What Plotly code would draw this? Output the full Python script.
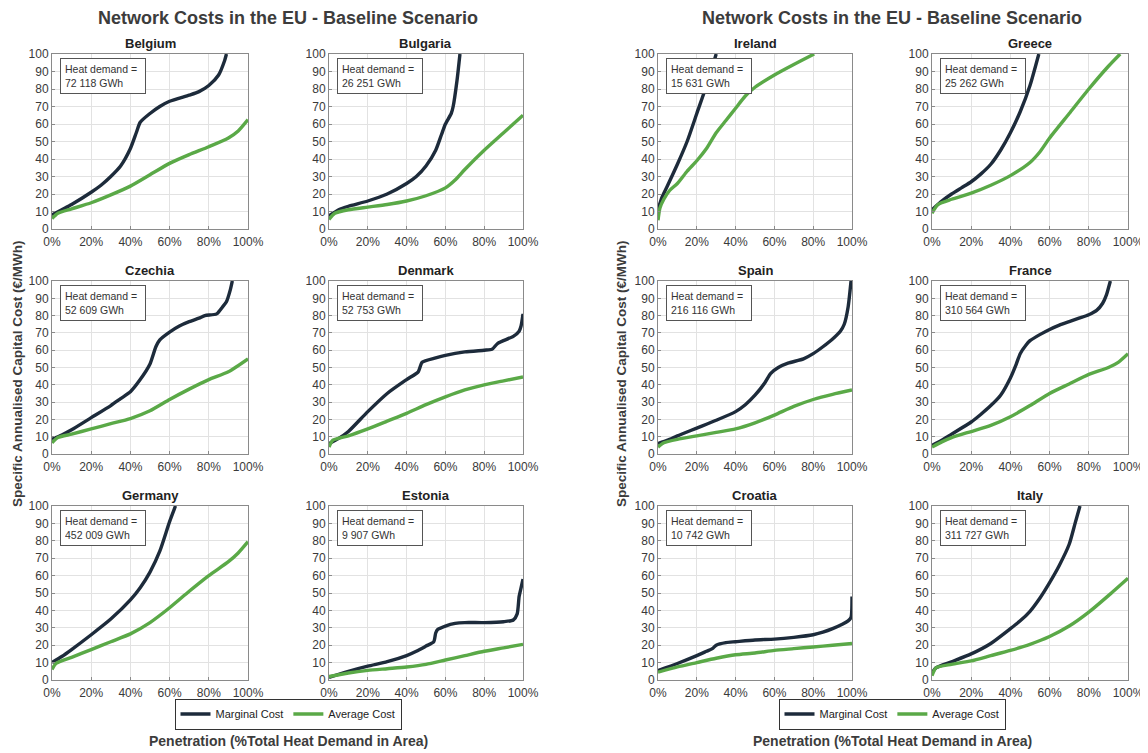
import plotly.graph_objects as go

# ---------------- data ----------------
countries = ["Belgium", "Bulgaria", "Czechia", "Denmark", "Germany", "Estonia",
             "Ireland", "Greece", "Spain", "France", "Croatia", "Italy"]
heat_demand = ["72 118", "26 251", "52 609", "52 753", "452 009", "9 907",
               "15 631", "25 262", "216 116", "310 564", "10 742", "311 727"]

x_ticks = [0, 20, 40, 60, 80, 100]
x_tick_labels = ["0%", "20%", "40%", "60%", "80%", "100%"]
y_ticks = [0, 10, 20, 30, 40, 50, 60, 70, 80, 90, 100]

belgium_marginal = [(0, 8), (5, 11), (10, 14), (20, 21), (25, 25), (30, 30), (35, 36), (40, 46), (43, 55),
                    (45, 61), (50, 66), (55, 70), (60, 73), (70, 76.5), (75, 78.5), (80, 82), (85, 88),
                    (88, 96), (89, 100)]
belgium_average = [(0, 6), (3, 9), (10, 11.5), (20, 15), (30, 19.5), (40, 24.5), (50, 31), (60, 37.5),
                   (70, 42.5), (80, 47), (90, 52), (95, 56), (100, 62.5)]
bulgaria_marginal = [(0, 7.5), (5, 11), (10, 13), (20, 16), (30, 20), (40, 26), (45, 30), (50, 36), (55, 45),
                     (58, 54), (60, 60), (63, 66), (64, 70), (66, 85), (67.5, 100)]
bulgaria_average = [(0, 5.5), (3, 9), (10, 11), (20, 12.5), (30, 14), (40, 16), (50, 19), (60, 23.5),
                    (65, 28), (70, 34), (80, 45), (90, 55), (100, 65)]
czechia_marginal = [(0, 8.5), (5, 11), (10, 14), (20, 21), (30, 28), (35, 32), (40, 36), (45, 43), (50, 52),
                    (53, 62), (55, 66), (60, 70.5), (65, 74), (70, 76.5), (75, 78.5), (78, 80), (84, 81),
                    (87, 85), (89, 88), (91, 95), (92, 100)]
czechia_average = [(0, 6.5), (3, 9.5), (10, 11.5), (20, 14.5), (30, 17.5), (40, 20.5), (50, 25), (60, 31.5),
                   (70, 37.5), (80, 43), (90, 47.5), (100, 55)]
denmark_marginal = [(0, 6), (5, 9), (10, 13), (20, 24.5), (30, 35), (40, 43), (46, 47.5), (48, 53), (55, 55.5),
                    (60, 57), (70, 59), (80, 60), (84, 60.5), (87, 64), (95, 68), (98, 71), (99, 74), (100, 81)]
denmark_average = [(0, 4), (2, 8), (10, 10.5), (20, 14.5), (30, 19), (40, 23.5), (50, 28.5), (60, 33),
                   (70, 37), (80, 40), (90, 42.3), (100, 44.5)]
germany_marginal = [(0, 10), (5, 13.5), (10, 17.5), (20, 26), (30, 35), (40, 46), (45, 53), (50, 62),
                    (55, 74), (60, 91), (63, 100)]
germany_average = [(0, 6), (2, 9.5), (10, 13), (20, 17.5), (30, 22), (40, 26.5), (50, 33), (60, 41.5),
                   (70, 51), (80, 60), (90, 68), (95, 73), (100, 79.5)]
estonia_marginal = [(0, 1.5), (10, 5), (20, 8), (30, 10.5), (40, 14), (45, 16.5), (50, 19.5), (54, 22),
                    (55, 27), (56, 29), (60, 31), (65, 32.5), (70, 33), (80, 33), (90, 33.5), (95, 34.5),
                    (97, 38), (98, 48), (99, 53), (100, 58)]
estonia_average = [(0, 2), (10, 4), (20, 5.5), (30, 6.5), (40, 7.5), (50, 9), (60, 11.5), (70, 14),
                   (80, 16.5), (90, 18.5), (100, 20.5)]
ireland_marginal = [(0, 11), (2, 18), (5, 25), (10, 37), (15, 50), (20, 66), (25, 82), (30, 100)]
ireland_average = [(0, 5), (1, 12), (3, 17), (6, 22), (10, 26), (15, 33), (20, 39), (25, 46), (30, 55),
                   (35, 62), (40, 69), (45, 76), (50, 81), (60, 88), (70, 94), (80.5, 100)]
greece_marginal = [(0, 11), (5, 16), (10, 20), (15, 23.5), (20, 27), (25, 31.5), (30, 37), (35, 45),
                   (40, 55), (45, 67), (50, 82), (54.5, 100)]
greece_average = [(0, 9), (3, 14), (10, 17), (20, 20.5), (30, 25), (40, 30.5), (50, 38), (55, 44),
                  (60, 52), (70, 66), (80, 80), (90, 93), (96, 100)]
spain_marginal = [(0, 6), (5, 8), (10, 10.5), (20, 15), (30, 19.5), (40, 24.5), (45, 28.5), (50, 34),
                  (55, 41), (58, 46.5), (62, 50), (67, 52.5), (75, 55), (80, 58), (85, 62), (90, 66.5),
                  (94, 71), (96, 75), (98, 85), (99.5, 100)]
spain_average = [(0, 4), (3, 6.5), (10, 8.5), (20, 10.5), (30, 12.5), (40, 14.5), (50, 18), (60, 22.5),
                 (70, 27.5), (80, 31.5), (90, 34.5), (100, 37)]
france_marginal = [(0, 5), (5, 8), (10, 11.5), (20, 18.5), (25, 23), (30, 28), (35, 34), (40, 44), (43, 52),
                   (45, 58), (48, 63), (50, 65.5), (55, 69), (60, 72), (65, 74.5), (70, 76.5), (75, 78.5),
                   (80, 80.5), (84, 83), (87, 87), (89, 92), (91, 100)]
france_average = [(0, 4), (5, 7), (10, 9.5), (20, 13), (30, 16.5), (40, 21.5), (50, 28), (60, 35),
                  (70, 40.5), (80, 46), (90, 50), (95, 53), (100, 58)]
croatia_marginal = [(0, 5.5), (10, 9.5), (20, 14), (25, 16.5), (28, 18), (30, 20), (35, 21.5), (40, 22),
                    (50, 23), (60, 23.5), (70, 24.5), (80, 26), (85, 27.5), (90, 29.5), (95, 32), (98, 34),
                    (99.5, 36), (100, 48)]
croatia_average = [(0, 4.5), (10, 7.5), (20, 10), (30, 12.5), (40, 14.5), (50, 15.5), (60, 17), (70, 18),
                   (80, 19), (90, 20), (100, 21)]
italy_marginal = [(0, 4), (2, 7), (10, 10.5), (20, 15), (30, 21), (40, 29.5), (45, 34), (50, 39.5),
                  (55, 47), (60, 56), (65, 66), (70, 78), (73, 90), (75.5, 100)]
italy_average = [(0, 2.5), (2, 7), (10, 9), (20, 11), (30, 14), (40, 17), (50, 20.5), (60, 25), (70, 31),
                 (80, 39), (90, 48.5), (100, 58.5)]

marginal_series = [belgium_marginal, bulgaria_marginal, czechia_marginal, denmark_marginal,
                   germany_marginal, estonia_marginal, ireland_marginal, greece_marginal,
                   spain_marginal, france_marginal, croatia_marginal, italy_marginal]
average_series = [belgium_average, bulgaria_average, czechia_average, denmark_average,
                  germany_average, estonia_average, ireland_average, greece_average,
                  spain_average, france_average, croatia_average, italy_average]

panel_title = "Network Costs in the EU - Baseline Scenario"
y_title = "Specific Annualised Capital Cost (€/MWh)"
x_title = "Penetration (%Total Heat Demand in Area)"

# ---------------- layout geometry (screen pixels) ----------------
PAGE_OFFSET = 8                      # default page body margin
W, H = 1148 - PAGE_OFFSET, 753 - PAGE_OFFSET
col_px = [(52, 248), (329, 523), (658, 852), (932, 1128)]
row_px = [(54, 229), (281, 454), (506, 680)]
grid_pos = [(0, 0), (0, 1), (1, 0), (1, 1), (2, 0), (2, 1),
            (0, 2), (0, 3), (1, 2), (1, 3), (2, 2), (2, 3)]

MARG_COLOR = "#1d2b3b"
AVG_COLOR = "#5aa947"
FONT = "Liberation Sans, Arial, sans-serif"
TXT = "#3c3c3c"

fig = go.Figure()
layout = dict(
    width=W, height=H, margin=dict(l=0, r=0, t=0, b=0, pad=0, autoexpand=False),
    paper_bgcolor="white", plot_bgcolor="white",
    font=dict(family=FONT, color="#333333", size=12),
    annotations=[],
)

def px_x(p):
    return (p - PAGE_OFFSET) / W

def px_y(p):
    return 1 - (p - PAGE_OFFSET) / H

for i, name in enumerate(countries):
    r, c = grid_pos[i]
    x0, x1 = col_px[c]
    y0, y1 = row_px[r]
    n = i + 1
    xa = "x" if n == 1 else f"x{n}"
    ya = "y" if n == 1 else f"y{n}"
    leg = "legend" if i < 6 else "legend2"
    first = i in (0, 6)
    mx = [p[0] for p in marginal_series[i]]
    my = [p[1] for p in marginal_series[i]]
    ax_ = [p[0] for p in average_series[i]]
    ay_ = [p[1] for p in average_series[i]]
    fig.add_trace(go.Scatter(x=mx, y=my, xaxis=xa, yaxis=ya, mode="lines", name="Marginal Cost",
                             line=dict(color=MARG_COLOR, width=3.4, shape="spline", smoothing=0.6),
                             showlegend=first, legend=leg, cliponaxis=True))
    fig.add_trace(go.Scatter(x=ax_, y=ay_, xaxis=xa, yaxis=ya, mode="lines", name="Average Cost",
                             line=dict(color=AVG_COLOR, width=3.4, shape="spline", smoothing=0.6),
                             showlegend=first, legend=leg, cliponaxis=True))
    axkey = "xaxis" if n == 1 else f"xaxis{n}"
    aykey = "yaxis" if n == 1 else f"yaxis{n}"
    layout[axkey] = dict(domain=[px_x(x0), px_x(x1)], anchor=ya, range=[0, 100], automargin=False,
                         tickvals=x_ticks, ticktext=x_tick_labels, showgrid=True,
                         gridcolor="#e2e2e2", gridwidth=1, zeroline=False, showline=True,
                         linecolor="#8a8a8a", linewidth=1, mirror=True, ticks="inside",
                         ticklen=3, tickcolor="#8a8a8a", tickfont=dict(size=12, color="#3a3a3a"),
                         ticklabelstandoff=2, fixedrange=True)
    layout[aykey] = dict(domain=[px_y(y1), px_y(y0)], anchor=xa, range=[0, 100], automargin=False,
                         tickvals=y_ticks, showgrid=True, gridcolor="#e2e2e2", gridwidth=1,
                         zeroline=False, showline=True, linecolor="#8a8a8a", linewidth=1,
                         mirror=True, ticks="inside", ticklen=3, tickcolor="#8a8a8a",
                         tickfont=dict(size=12, color="#3a3a3a"), fixedrange=True)
    # subplot title
    layout["annotations"].append(dict(
        text=f"<b>{name}</b>", x=px_x((x0 + x1) / 2), y=px_y(y0 - 11), xref="paper", yref="paper",
        xanchor="center", yanchor="middle", showarrow=False, font=dict(size=13, color="#222222")))
    # heat demand box
    layout["annotations"].append(dict(
        text=f"Heat demand =<br>{heat_demand[i]} GWh", x=px_x(x0 + 8), y=px_y(y0 + 4),
        xref="paper", yref="paper", xanchor="left", yanchor="top", align="left", showarrow=False,
        bgcolor="white", bordercolor="#555555", borderwidth=1, borderpad=4, width=76,
        font=dict(size=10.5, color="#333333")))

for cx in (288, 892):
    layout["annotations"].append(dict(
        text=f"<b>{panel_title}</b>", x=px_x(cx), y=px_y(18), xref="paper", yref="paper",
        xanchor="center", yanchor="middle", showarrow=False, font=dict(size=18, color=TXT)))
    layout["annotations"].append(dict(
        text=f"<b>{x_title}</b>", x=px_x(cx), y=px_y(741), xref="paper", yref="paper",
        xanchor="center", yanchor="middle", showarrow=False, font=dict(size=14, color=TXT)))
for yx in (17, 621):
    layout["annotations"].append(dict(
        text=f"<b>{y_title}</b>", x=px_x(yx), y=px_y(374), xref="paper", yref="paper",
        xanchor="center", yanchor="middle", textangle=-90, showarrow=False,
        font=dict(size=13.5, color=TXT)))

legend_common = dict(orientation="h", xanchor="center", yanchor="middle", bgcolor="white",
                     bordercolor="#333333", borderwidth=1, font=dict(size=11, color="#222222"),
                     itemwidth=30, tracegroupgap=0, traceorder="normal")
layout["legend"] = dict(x=px_x(288), y=px_y(714), **legend_common)
layout["legend2"] = dict(x=px_x(892), y=px_y(714), **legend_common)

fig.update_layout(**layout)
fig.write_html("out.html")
